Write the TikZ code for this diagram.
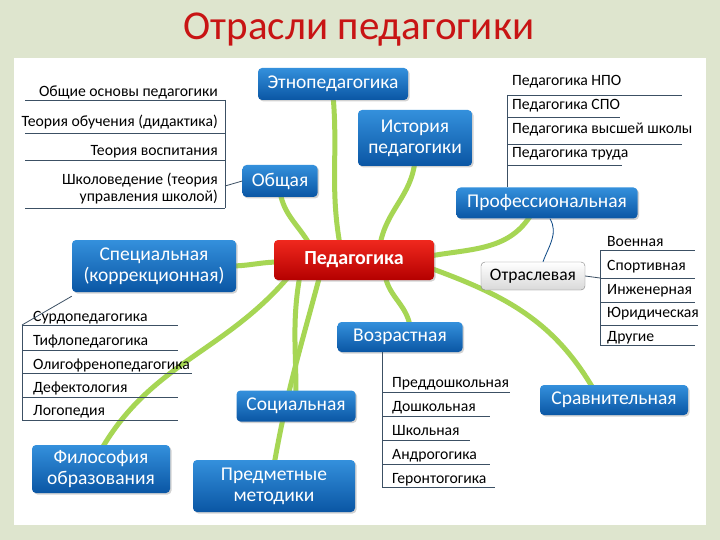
\documentclass[tikz,border=0pt]{standalone}
\usepackage{fontspec}
\setmainfont{Carlito}
\usetikzlibrary{shadows}
\definecolor{bgc}{RGB}{222,229,206}
\definecolor{lime}{RGB}{166,214,84}
\definecolor{bl1}{RGB}{52,144,220}
\definecolor{bl2}{RGB}{10,86,164}
\definecolor{rd1}{RGB}{240,40,30}
\definecolor{rd2}{RGB}{180,0,0}
\definecolor{lnc}{RGB}{60,80,100}
\definecolor{ttl}{RGB}{200,20,20}
\tikzset{
 bbox/.style={rounded corners=4pt,top color=bl1,bottom color=bl2,text=white,font=\fontsize{19.5}{21}\selectfont,align=center,inner sep=0pt,drop shadow={opacity=0.35,shadow xshift=1.5pt,shadow yshift=-1.5pt}},
 gr/.style={lime,line width=5pt,line cap=round},
 item/.style={font=\fontsize{15.7}{17}\selectfont,inner sep=0pt},
 ul/.style={lnc,line width=0.8pt},
 thin/.style={lnc,line width=0.8pt}
}
\begin{document}
\begin{tikzpicture}[x=1pt,y=-1pt]
\useasboundingbox (0,0) rectangle (720,540);
\fill[bgc] (0,0) rectangle (720,540);
\fill[white] (14,58) rectangle (706,525);
\node[text=ttl,font=\fontsize{41}{44}\selectfont] (title) at (359,30) {Отрасли педагогики};
% green connectors (drawn first)
\coordinate (P) at (354,260);
\draw[gr] (340,245) to[out=100,in=-85] (333,95);
\draw[gr] (380,245) to[out=80,in=-95] (415,160);
\draw[gr] (310,245) to[out=120,in=-80] (280,192);
\draw[gr] (430,256) to[out=10,in=-120] (532,213);
\draw[gr] (280,262) to[out=180,in=0] (230,266);
\draw[gr] (385,275) to[out=-80,in=100] (410,326);
\draw[gr] (430,268) to[out=-20,in=120] (594,390);
\draw[gr] (300,275) to[out=-100,in=90] (296,395);
\draw[gr] (290,275) to[out=-130,in=60] (101,450);
\draw[gr] (320,275) to[out=-105,in=80] (274,465);
% blue nodes
\node[bbox,minimum width=150,minimum height=32] (etno) at (333,84) {Этнопедагогика};
\node[bbox,minimum width=114,minimum height=56] (ist) at (415,138) {История\\педагогики};
\node[bbox,minimum width=75,minimum height=32] (obsh) at (280,181) {Общая};
\node[bbox,minimum width=181,minimum height=31] (prof) at (547,203) {Профессиональная};
\node[bbox,minimum width=164,minimum height=52] (spec) at (154,266) {Специальная\\(коррекционная)};
\node[rounded corners=4pt,top color=rd1,bottom color=rd2,text=white,font=\bfseries\fontsize{20}{21}\selectfont,minimum width=160,minimum height=40,inner sep=0pt,drop shadow={opacity=0.35,shadow xshift=1.5pt,shadow yshift=-1.5pt}] (ped) at (P) {Педагогика};
\node[rounded corners=4pt,top color=white,bottom color=gray!30,draw=gray,font=\fontsize{17.5}{18}\selectfont,minimum width=104,minimum height=28,inner sep=0pt] (otr) at (533,276) {Отраслевая};
\node[bbox,minimum width=125,minimum height=30] (voz) at (400,337) {Возрастная};
\node[bbox,minimum width=148,minimum height=30] (srav) at (614,400) {Сравнительная};
\node[bbox,minimum width=119,minimum height=31] (soc) at (296,406) {Социальная};
\node[bbox,minimum width=138,minimum height=48] (fil) at (101,469) {Философия\\образования};
\node[bbox,minimum width=162,minimum height=52] (pred) at (274,486) {Предметные\\методики};
% left top list
\node[item,anchor=base east] (a1) at (218,97) {Общие основы педагогики};
\node[item,anchor=base east] (a2) at (218,127) {Теория обучения (дидактика)};
\node[item,anchor=base east] (a3) at (218,156) {Теория воспитания};
\node[item,anchor=east,align=right] (a4) at (218,189) {Школоведение (теория\\управления школой)};
\draw[ul] (25,100) -- (225,100) (25,133) -- (225,133) (25,160) -- (225,160) (25,208) -- (225,208);
\draw[thin] (225,100) -- (225,208);
\coordinate (aj) at (225,186);
\draw[thin] (aj) -- (obsh.west);
% right top list
\node[item,anchor=base west] (b1) at (512,86) {Педагогика НПО};
\node[item,anchor=base west] (b2) at (512,110) {Педагогика СПО};
\node[item,anchor=base west] (b3) at (512,134) {Педагогика высшей школы};
\node[item,anchor=base west] (b4) at (512,158) {Педагогика труда};
\draw[ul] (507,95) -- (682,95) (507,117) -- (620,117) (507,144) -- (682,144) (507,165) -- (622,165);
\coordinate (bj) at (507,187);
\draw[thin] (507,95) -- (bj);
% otraslevaya list
\draw[thin,bl2!80!black] ([xshift=3]prof.south) to[out=-60,in=70] ([xshift=10]otr.north);
\node[item,anchor=base west] (c1) at (607,246) {Военная};
\node[item,anchor=base west] (c2) at (607,270) {Спортивная};
\node[item,anchor=base west] (c3) at (607,294) {Инженерная};
\node[item,anchor=base west] (c4) at (607,317) {Юридическая};
\node[item,anchor=base west] (c5) at (607,341) {Другие};
\draw[ul] (600,250) -- (695,250) (600,278) -- (695,278) (600,302) -- (695,302) (600,325) -- (698,325) (600,345) -- (695,345);
\draw[thin] (600,250) -- (600,345);
\coordinate (cj) at (600,278);
\draw[thin] (otr.east) -- (cj);
% special list
\node[item,anchor=base west] (d1) at (33,321) {Сурдопедагогика};
\node[item,anchor=base west] (d2) at (33,345) {Тифлопедагогика};
\node[item,anchor=base west] (d3) at (33,369) {Олигофренопедагогика};
\node[item,anchor=base west] (d4) at (33,392) {Дефектология};
\node[item,anchor=base west] (d5) at (33,415) {Логопедия};
\draw[ul] (22,325) -- (178,325) (22,350) -- (178,350) (22,373) -- (192,373) (22,397) -- (178,397) (22,420) -- (178,420);
\coordinate (dj) at (22,325);
\draw[thin] (dj) -- (22,420);
\draw[thin] ([yshift=-4]spec.south west) -- (dj);
% vozrastnaya list
\node[item,anchor=base west] (e1) at (392,387) {Преддошкольная};
\node[item,anchor=base west] (e2) at (392,411) {Дошкольная};
\node[item,anchor=base west] (e3) at (392,435) {Школьная};
\node[item,anchor=base west] (e4) at (392,459) {Андрогогика};
\node[item,anchor=base west] (e5) at (392,483) {Геронтогогика};
\draw[ul] (382,392) -- (510,392) (382,416) -- (490,416) (382,440) -- (470,440) (382,464) -- (490,464) (382,487) -- (495,487);
\draw[thin] ([xshift=-18]voz.south) -- (382,487);
\end{tikzpicture}
\end{document}
